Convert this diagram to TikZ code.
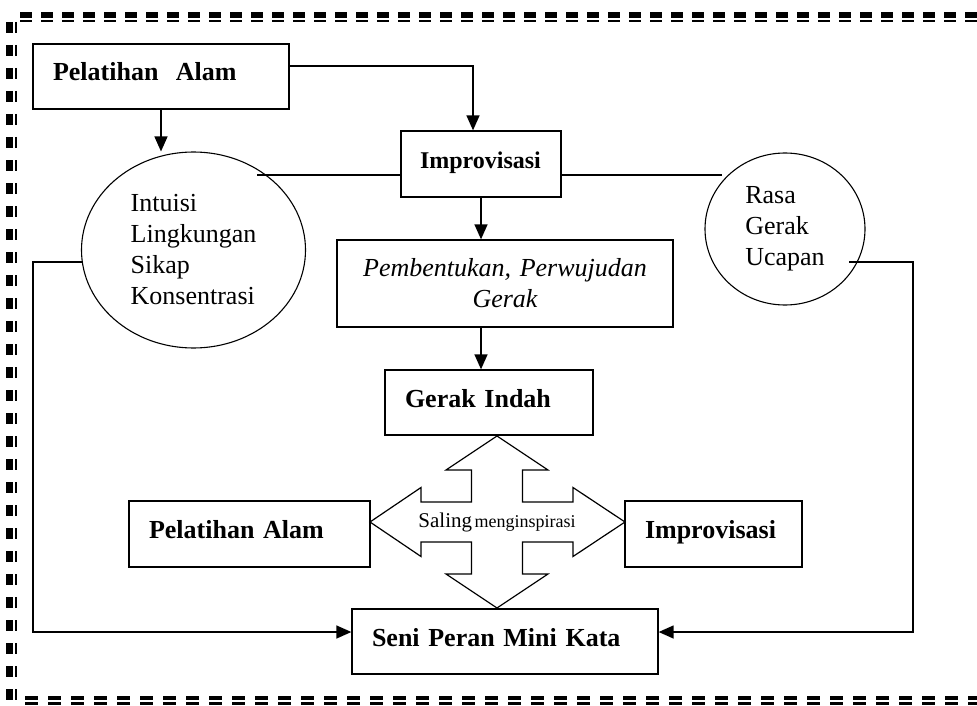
\documentclass[tikz,border=0pt]{standalone}
\usepackage{fontspec}
\setmainfont{Liberation Serif}
\usetikzlibrary{shapes.geometric,arrows.meta,calc}
\newcommand\myfz{\fontsize{26}{31}\selectfont}
\begin{document}
\begin{tikzpicture}[x=1pt,y=-1pt,
  box/.style={draw,line width=1.3pt,rectangle,inner xsep=20pt,inner ysep=0pt,
    align=left,font=\myfz\bfseries,text height=18pt,text depth=9pt},
  oval/.style={draw,line width=1.1pt,ellipse,inner sep=0pt,align=left,font=\myfz},
  conn/.style={line width=1.4pt},
  arr/.style={line width=1.4pt,-{Triangle[length=15pt,width=13pt]}}]
\useasboundingbox (0,0) rectangle (977,706);

% dashed double frame
\draw[line width=6pt,dash pattern=on 12pt off 9pt] (20,15) -- (977,15);
\draw[line width=2pt,dash pattern=on 12pt off 9pt] (20,21) -- (977,21);
\draw[line width=7pt,dash pattern=on 11pt off 12pt] (9.5,22) -- (9.5,706);
\draw[line width=2pt,dash pattern=on 11pt off 12pt] (16,22) -- (16,706);
\draw[line width=4pt,dash pattern=on 13pt off 10pt] (25,698) -- (977,698);
\draw[line width=3pt,dash pattern=on 13pt off 10pt] (25,703.5) -- (977,703.5);

% boxes
\node[box,minimum width=256pt,minimum height=65pt,text width=216pt] (pa1) at (161,76.5) {Pelatihan\ \ Alam};
\node[box,minimum width=160pt,minimum height=66pt,inner xsep=19pt,text width=122pt,font=\fontsize{24}{29}\selectfont\bfseries] (im1) at (481,164) {Improvisasi};
\node[draw,line width=1.3pt,rectangle,inner xsep=10pt,inner ysep=0pt,align=center,
  font=\myfz\itshape,minimum width=336pt,minimum height=87pt,text width=316pt] (pg) at (505,283.5) {Pembentukan, Perwujudan\\Gerak};
\node[box,minimum width=208pt,minimum height=65pt,text width=168pt] (gi) at (489,402.5) {Gerak Indah};
\node[box,minimum width=241pt,minimum height=66pt,text width=201pt] (pa2) at (249.5,534) {Pelatihan Alam};
\node[box,minimum width=177pt,minimum height=66pt,text width=137pt] (im2) at (713.5,534) {Improvisasi};
\node[box,minimum width=306pt,minimum height=65pt,text width=266pt] (sp) at (505,641.5) {Seni Peran Mini Kata};

% ellipses
\node[oval,minimum width=224pt,minimum height=196pt] (le) at (193.5,250) {Intuisi\\Lingkungan\\Sikap\\Konsentrasi};
\node[oval,minimum width=160pt,minimum height=152pt] (rc) at (785,229) {Rasa\\Gerak\\Ucapan};

% four-way arrow
\coordinate (cx) at (497,522);
\draw[line width=1.2pt,fill=white,shift={(497,522)}]
  (0,-86) -- (51,-52) -- (25.5,-52) -- (25.5,-20) -- (76,-20) -- (76,-34.5) -- (128,0)
  -- (76,34.5) -- (76,20) -- (25.5,20) -- (25.5,52) -- (51,52) -- (0,86)
  -- (-51,52) -- (-25.5,52) -- (-25.5,20) -- (-76,20) -- (-76,34.5) -- (-127,0)
  -- (-76,-34.5) -- (-76,-20) -- (-25.5,-20) -- (-25.5,-52) -- (-51,-52) -- cycle;
\node[inner sep=0pt] (sm) at (cx) {{\fontsize{21}{25}\selectfont Saling} {\fontsize{18}{22}\selectfont menginspirasi}};

% connector end points
\coordinate (lin1) at (257,175);
\coordinate (rin1) at (722,175);
\coordinate (lout) at (82,262);
\coordinate (lx) at (33,632);
\coordinate (rout) at (849,262);
\coordinate (rx) at (913,632);

% connectors
\draw[arr] ([yshift=10.5pt]pa1.east) -| ([xshift=-8pt]im1.north);
\draw[arr] (pa1.south) -- (pa1.south |- le.north);
\draw[arr] (im1.south) -- (im1.south |- pg.north);
\draw[arr] (im1.south |- pg.south) -- (im1.south |- gi.north);
\draw[conn] ([yshift=-11pt]im1.west) -- (lin1);
\draw[conn] ([yshift=-11pt]im1.east) -- (rin1);
\draw[arr] (lout) -| (lx) -- ([yshift=9.5pt]sp.west);
\draw[arr] (rout) -| (rx) -- ([yshift=9.5pt]sp.east);
\end{tikzpicture}
\end{document}
